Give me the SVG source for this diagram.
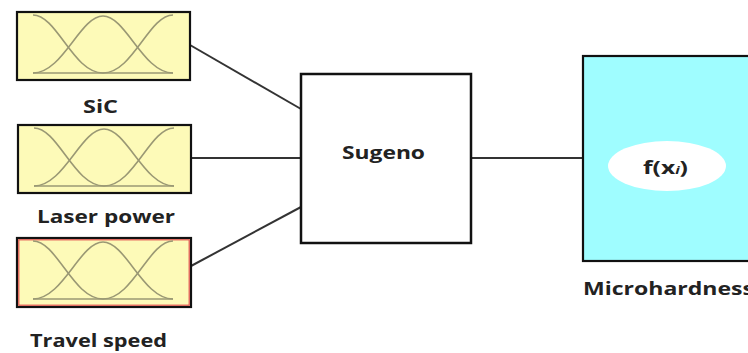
<svg xmlns="http://www.w3.org/2000/svg" width="748" height="353" viewBox="0 0 748 353">
<style>
.lbl{font-family:"Open Sans","Liberation Sans",sans-serif;font-weight:bold;fill:#222;font-size:18px;}
.mfbox{fill:#fdfab8;stroke:#111;stroke-width:2.2;}
.mf{fill:none;stroke:#9a9874;stroke-width:1.6;}
.conn{stroke:#333;stroke-width:2;fill:none;}
</style>
<defs>
<g id="mfs">
<path class="mf" d="M16,3 C40,3 56,61 86,61"/>
<path class="mf" d="M16,61 C46,61 63,4 86,4 C109,4 126,61 156,61"/>
<path class="mf" d="M86,61 C116,61 132,3 156,3"/>
<path class="mf" d="M16,61 L156,61"/>
</g>
</defs>
<g id="connectors">
<line class="conn" x1="190" y1="45" x2="301" y2="109"/>
<line class="conn" x1="191" y1="158" x2="301" y2="158"/>
<line class="conn" x1="191" y1="266" x2="301" y2="207"/>
<line class="conn" x1="471" y1="158" x2="583" y2="158"/>
</g>
<g id="sic">
<rect class="mfbox" x="17" y="12" width="173" height="68"/>
<use href="#mfs" x="17" y="12"/>
<text class="lbl" x="83" y="113" textLength="35" lengthAdjust="spacingAndGlyphs">SiC</text>
</g>
<g id="laser">
<rect class="mfbox" x="18" y="125" width="173" height="68"/>
<use href="#mfs" x="18" y="125"/>
<text class="lbl" x="37" y="223" textLength="138" lengthAdjust="spacingAndGlyphs">Laser power</text>
</g>
<g id="travel">
<rect class="mfbox" x="17" y="238" width="174" height="69"/>
<rect x="18.8" y="239.8" width="170.4" height="65.4" fill="none" stroke="#e05050" stroke-width="1.2"/>
<use href="#mfs" x="17" y="238"/>
<text class="lbl" x="30" y="347" textLength="137" lengthAdjust="spacingAndGlyphs">Travel speed</text>
</g>
<g id="sugeno">
<rect x="301" y="74" width="170" height="169" fill="#fff" stroke="#111" stroke-width="2.5"/>
<text class="lbl" x="342" y="159" textLength="83" lengthAdjust="spacingAndGlyphs">Sugeno</text>
</g>
<g id="microhardness">
<rect x="583" y="56" width="180" height="205" fill="#9ffdff" stroke="#111" stroke-width="2.2"/>
<ellipse cx="667" cy="166" rx="59" ry="25" fill="#fff"/>
<text class="lbl" x="643" y="174" textLength="45" lengthAdjust="spacingAndGlyphs">f(x<tspan font-size="11" font-style="italic">i</tspan>)</text>
<text class="lbl" x="583" y="295" textLength="171" lengthAdjust="spacingAndGlyphs">Microhardness</text>
</g>
</svg>
